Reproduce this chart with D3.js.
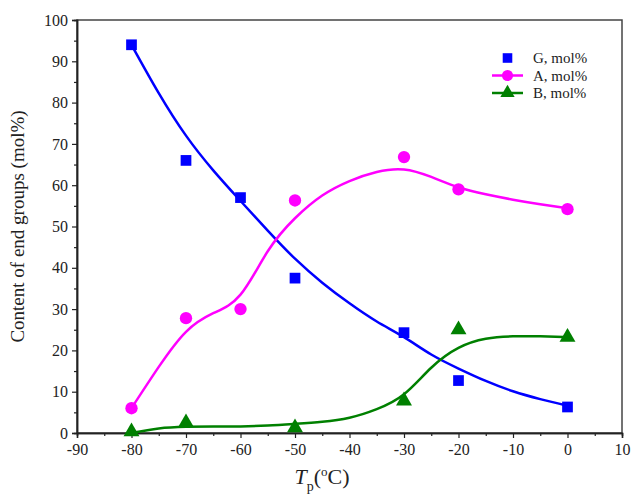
<!DOCTYPE html>
<html>
<head>
<meta charset="utf-8">
<script src="https://cdn.jsdelivr.net/npm/d3@7"></script>
<style>
  body { margin: 0; background: #fff; }
  svg { display: block; font-family: "Liberation Serif", "Times New Roman", serif; }
</style>
</head>
<body>
<svg width="632" height="498"></svg>
<script>
// measured points
const tempPts = [-80, -70, -60, -50, -30, -20, 0];
const gValues = [94, 66, 57, 37.5, 24.3, 12.7, 6.3];
const aValues = [6, 27.8, 30, 56.3, 66.8, 59, 54.2];
const bTemps = [-80, -70, -50, -30, -20, 0];
const bValues = [0.3, 2.5, 1.3, 7.8, 25, 23.2];

// fitted curves
const fitTemps = [-80, -75, -70, -65, -60, -55, -50, -45, -40, -35, -30, -25, -20, -15, -10, -5, 0];
const gFit = [94, 82.3, 72, 63.6, 56.2, 49, 42.2, 36.4, 31.4, 27, 23.2, 19, 15.6, 12.6, 10.1, 8.2, 6.6];
const aFit = [6, 16, 24.5, 29, 33.5, 44, 52, 57.5, 61, 63.2, 63.8, 62, 59.5, 57.8, 56.5, 55.4, 54.4];
const bFit = [0, 1.1, 1.5, 1.6, 1.6, 1.8, 2.2, 2.7, 3.7, 5.8, 9.4, 15.8, 20.6, 22.8, 23.4, 23.4, 23.2];

const xTicks = d3.range(-90, 11, 10);
const yTicks = d3.range(0, 101, 10);

const margin = {left: 77, right: 10, top: 20, bottom: 65};
const W = 632, H = 498;
const svg = d3.select('svg');

const x = d3.scaleLinear().domain([-90, 10]).range([margin.left, W - margin.right]);
const y = d3.scaleLinear().domain([0, 100]).range([H - margin.bottom, margin.top]);

// frame
svg.append('rect')
	.attr('x', x(-90)).attr('y', y(100))
	.attr('width', x(10) - x(-90)).attr('height', y(0) - y(100))
	.attr('fill', 'none').attr('stroke', '#444').attr('stroke-width', 1.5);

// axes
svg.append('g')
	.attr('transform', `translate(0,${y(0)})`)
	.call(d3.axisBottom(x).tickValues(xTicks).tickSize(5).tickPadding(6).tickFormat(d => String(d)));
svg.append('g')
	.attr('transform', `translate(0,${y(0)})`)
	.call(d3.axisBottom(x).tickValues(d3.range(-85, 10, 10)).tickSize(3).tickFormat(''));
svg.append('g')
	.attr('transform', `translate(${x(-90)},0)`)
	.call(d3.axisLeft(y).tickValues(yTicks).tickSize(5).tickPadding(4));
svg.append('g')
	.attr('transform', `translate(${x(-90)},0)`)
	.call(d3.axisLeft(y).tickValues(d3.range(5, 100, 10)).tickSize(3).tickFormat(''));

svg.selectAll('.domain').attr('stroke', '#222').attr('stroke-width', 1.5);
svg.selectAll('.tick line').attr('stroke', '#222').attr('stroke-width', 1.2);
svg.selectAll('.tick text').attr('font-size', 16).attr('fill', '#222')
	.attr('font-family', '"Liberation Serif", serif');

// axis titles
svg.append('text')
	.attr('transform', `translate(24,${(y(0) + y(100)) / 2}) rotate(-90)`)
	.attr('text-anchor', 'middle')
	.attr('font-size', 19).attr('fill', '#222')
	.text('Content of end groups (mol%)');

let xt = svg.append('text')
	.attr('x', 322).attr('y', 484)
	.attr('text-anchor', 'middle')
	.attr('font-size', 22).attr('fill', '#222');
xt.append('tspan').attr('font-style', 'italic').text('T');
xt.append('tspan').attr('font-size', 14).attr('dy', 7).text('p');
xt.append('tspan').attr('dy', -7).text('(');
xt.append('tspan').attr('font-size', 13).attr('dy', -8).text('o');
xt.append('tspan').attr('dy', 8).text('C)');

// curves
const line = (vals) => d3.line()
	.x((d, i) => x(fitTemps[i]))
	.y(d => y(d))
	.curve(d3.curveNatural)(vals);

const series = [
	{name: 'G, mol%', color: '#0000ff', fit: gFit, temps: tempPts, vals: gValues, sym: d3.symbolSquare, size: 115},
	{name: 'A, mol%', color: '#ff00ff', fit: aFit, temps: tempPts, vals: aValues, sym: d3.symbolCircle, size: 120},
	{name: 'B, mol%', color: '#008000', fit: bFit, temps: bTemps, vals: bValues, sym: d3.symbolTriangle, size: 110}
];

series.forEach(s => {
	svg.append('path')
		.attr('d', line(s.fit))
		.attr('fill', 'none').attr('stroke', s.color).attr('stroke-width', 2.5);
});

series.forEach(s => {
	svg.append('g').selectAll('path')
		.data(s.vals)
		.join('path')
		.attr('transform', (d, i) => `translate(${x(s.temps[i])},${y(d)})`)
		.attr('d', d3.symbol().type(s.sym).size(s.size))
		.attr('fill', s.color);
});

// legend
let legend = svg.append('g').attr('transform', 'translate(492,58)');
series.forEach((s, i) => {
	let g = legend.append('g').attr('transform', `translate(0,${i * 17.5})`);
	if (i > 0) {
		g.append('line').attr('x1', 0).attr('x2', 31).attr('y1', 0).attr('y2', 0)
			.attr('stroke', s.color).attr('stroke-width', 2.5);
	}
	g.append('path')
		.attr('transform', 'translate(15.5,0)')
		.attr('d', d3.symbol().type(s.sym).size(s.size * 0.8))
		.attr('fill', s.color);
	g.append('text')
		.attr('x', 41).attr('y', 5)
		.attr('font-size', 15).attr('fill', '#222')
		.text(s.name);
});
</script>
</body>
</html>
